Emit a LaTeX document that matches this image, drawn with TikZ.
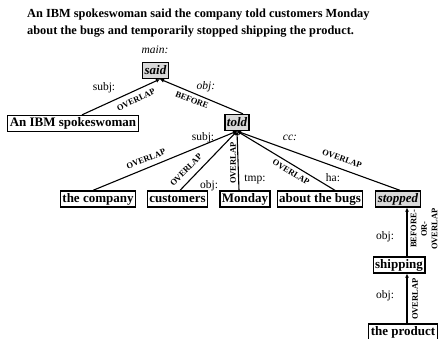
\documentclass[tikz,border=0pt]{standalone}
\usepackage{fontspec}
\setmainfont{Liberation Serif}
\usetikzlibrary{calc,arrows.meta}
\begin{document}
\begin{tikzpicture}[x=1pt,y=-1pt,
  box/.style={draw, line width=1.3pt, inner xsep=2pt, inner ysep=0pt, minimum height=16pt, fill=white, font=\fontsize{13}{13}\selectfont\bfseries},
  gbox/.style={box, fill=gray!30, font=\fontsize{13}{13}\selectfont\bfseries\itshape},
  edge/.style={line width=1.1pt, -{Latex[length=4pt,width=4pt]}},
  rel/.style={font=\fontsize{8.5}{8.5}\selectfont\bfseries, inner sep=0pt},
  lab/.style={font=\fontsize{11.5}{11.5}\selectfont, inner sep=0pt},
  ilab/.style={font=\fontsize{11.5}{11.5}\selectfont\itshape, inner sep=0pt},
]
\useasboundingbox (0,0) rectangle (440,339);
\node[anchor=west, align=left, inner sep=0pt, font=\fontsize{12.35}{17}\selectfont\bfseries] (title) at (27,23.5)
  {An IBM spokeswoman said the company told customers Monday\\about the bugs and temporarily stopped shipping the product.};
% nodes
\node[gbox] (said) at (155.5,70.5) {said};
\node[ilab] (mainl) at (155,50) {main:};
\node[box] (ibm) at (73,123.5) {An IBM spokeswoman};
\node[gbox] (told) at (237,122.5) {told};
\node[box] (company) at (98,199) {the company};
\node[box] (customers) at (177.5,199) {customers};
\node[box] (monday) at (245,199) {Monday};
\node[box] (bugs) at (320,199) {about the bugs};
\node[gbox] (stopped) at (398,199) {stopped};
\node[box] (shipping) at (399,265) {shipping};
\node[box] (product) at (403,332) {the product};
% edges
\draw[edge] ([xshift=9pt]ibm.north) -- ([xshift=4.5pt]said.south);
\draw[edge] ([xshift=6pt]told.north) -- ([xshift=4.5pt]said.south);
\draw[edge] ([xshift=-5pt]company.north) -- (told.south);
\draw[edge] ([xshift=2.5pt]customers.north) -- (told.south);
\draw[edge] ([xshift=-6pt]monday.north) -- (told.south);
\draw[edge] ([xshift=15pt]bugs.north) -- (told.south);
\draw[edge] ([xshift=2pt]stopped.north) -- (told.south);
\draw[edge] ([xshift=8pt]shipping.north) -- ([xshift=9pt]stopped.south);
\draw[edge] ([xshift=4pt]product.north) -- ([xshift=8pt]shipping.south);
% labels
\node[lab] (l1) at (104,88) {subj:};
\node[rel, rotate=26] (r1) at (136,100) {OVERLAP};
\node[ilab] (l2) at (206,87) {obj:};
\node[rel, rotate=-22] (r2) at (192,100) {BEFORE};
\node[lab] (l3) at (203,138) {subj:};
\node[rel, rotate=22] (r3) at (146,159) {OVERLAP};
\node[rel, rotate=46] (r4) at (186,170) {OVERLAP};
\node[lab] (l4) at (209,186) {obj:};
\node[rel, rotate=90] (r5) at (233,163) {OVERLAP};
\node[lab] (l5) at (255,179) {tmp:};
\node[rel, rotate=-31] (r6) at (291,172) {OVERLAP};
\node[lab] (l6) at (333,178) {ha:};
\node[ilab] (l7) at (290,138) {cc:};
\node[rel, rotate=-20] (r7) at (342,159) {OVERLAP};
\node[lab] (l8) at (385,237) {obj:};
\node[rel, rotate=90, align=center, font=\fontsize{8.5}{10.5}\selectfont\bfseries] (r8) at (424,229) {BEFORE-\\OR-\\OVERLAP};
\node[lab] (l9) at (385,296) {obj:};
\node[rel, rotate=90] (r9) at (415,299) {OVERLAP};
\end{tikzpicture}
\end{document}
